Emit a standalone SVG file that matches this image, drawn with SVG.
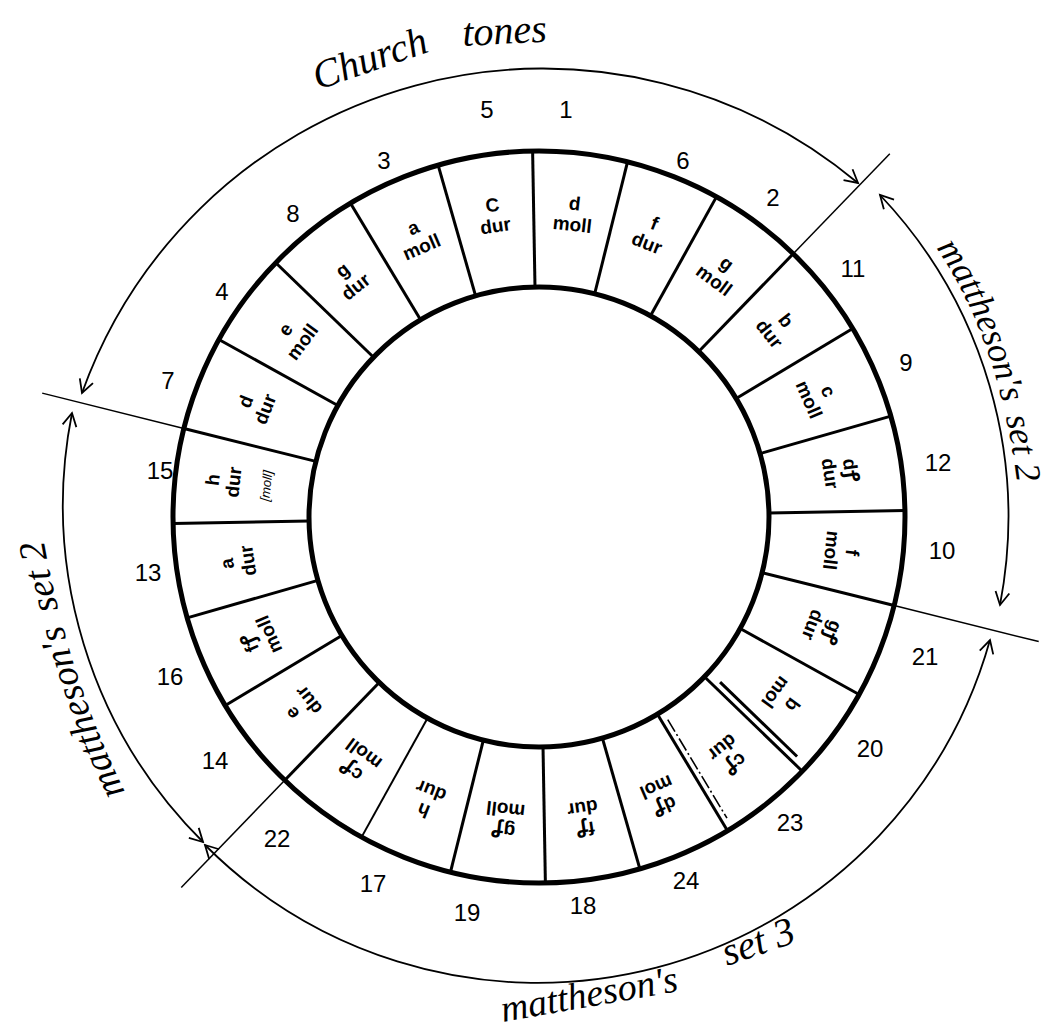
<svg xmlns="http://www.w3.org/2000/svg" width="1050" height="1028" viewBox="0 0 1050 1028">
<defs>
<style>
.ring{fill:none;stroke:#000;stroke-width:5}
.dv{stroke:#000;stroke-width:3;fill:none}
.thin{stroke:#000;stroke-width:1.5;fill:none}
.arc{fill:none;stroke:#000;stroke-width:1.8;marker-start:url(#ah);marker-end:url(#ah)}
.lab{font-family:"Liberation Sans","Noto Sans","DejaVu Sans",sans-serif;font-weight:bold;font-size:19px;text-anchor:middle;fill:#000}
.sm{font-size:13px;font-weight:normal;font-style:italic}
.num{font-family:"Liberation Sans","DejaVu Sans",sans-serif;font-size:24px;text-anchor:middle;fill:#000}
.hand{font-family:"Liberation Serif","DejaVu Serif",serif;font-style:italic;fill:#000}
</style>
<marker id="ah" markerWidth="20" markerHeight="18" refX="15" refY="9" orient="auto-start-reverse" markerUnits="userSpaceOnUse">
<path d="M2,2 L15,9 L2,16" fill="none" stroke="#000" stroke-width="1.8"/>
</marker>
</defs>
<rect width="1050" height="1028" fill="#fff"/>

<g id="ring">
<circle class="ring" cx="539" cy="517" r="366"/>
<circle class="ring" cx="539" cy="517" r="230" stroke-width="6"/>
</g>

<g id="connectors">
<g transform="translate(539,517)">
<g class="dv">
<line x1="0" y1="-230" x2="0" y2="-366" transform="rotate(-1)"/>
<line x1="0" y1="-230" x2="0" y2="-366" transform="rotate(14)"/>
<line x1="0" y1="-230" x2="0" y2="-366" transform="rotate(29)"/>
<line x1="0" y1="-230" x2="0" y2="-366" transform="rotate(44)"/>
<line x1="0" y1="-230" x2="0" y2="-366" transform="rotate(59)"/>
<line x1="0" y1="-230" x2="0" y2="-366" transform="rotate(74)"/>
<line x1="0" y1="-230" x2="0" y2="-366" transform="rotate(89)"/>
<line x1="0" y1="-230" x2="0" y2="-366" transform="rotate(104)"/>
<line x1="0" y1="-230" x2="0" y2="-366" transform="rotate(119)"/>
<line x1="0" y1="-230" x2="0" y2="-366" transform="rotate(134)"/>
<line x1="-7" y1="-245" x2="-7" y2="-352" transform="rotate(134)"/>
<line x1="0" y1="-230" x2="0" y2="-366" transform="rotate(149)"/>
<line x1="-6" y1="-240" x2="-6" y2="-355" transform="rotate(149)" stroke-width="1.6" stroke-dasharray="14 3 2 3"/>
<line x1="0" y1="-230" x2="0" y2="-366" transform="rotate(164)"/>
<line x1="0" y1="-230" x2="0" y2="-366" transform="rotate(179)"/>
<line x1="0" y1="-230" x2="0" y2="-366" transform="rotate(194)"/>
<line x1="0" y1="-230" x2="0" y2="-366" transform="rotate(209)" stroke-width="2"/>
<line x1="0" y1="-230" x2="0" y2="-366" transform="rotate(224)"/>
<line x1="0" y1="-230" x2="0" y2="-366" transform="rotate(239)"/>
<line x1="0" y1="-230" x2="0" y2="-366" transform="rotate(254)"/>
<line x1="0" y1="-230" x2="0" y2="-366" transform="rotate(269)"/>
<line x1="0" y1="-230" x2="0" y2="-366" transform="rotate(284)"/>
<line x1="0" y1="-230" x2="0" y2="-366" transform="rotate(299)"/>
<line x1="0" y1="-230" x2="0" y2="-366" transform="rotate(314)"/>
<line x1="0" y1="-230" x2="0" y2="-366" transform="rotate(329)"/>
<line x1="0" y1="-230" x2="0" y2="-366" transform="rotate(344)"/>
</g>
<g class="thin">
<line x1="0" y1="-366" x2="0" y2="-505" transform="rotate(44)"/>
<line x1="0" y1="-366" x2="0" y2="-515" transform="rotate(104)"/>
<line x1="0" y1="-366" x2="0" y2="-515" transform="rotate(224)"/>
<line x1="0" y1="-366" x2="0" y2="-512" transform="rotate(284)"/>
</g>
</g>
<path class="arc" d="M 82 393 A 490 490 0 0 1 858 183"/>
<path class="arc" d="M 880 195 A 468 468 0 0 1 1000 605"/>
<path class="arc" d="M 990 640 A 470 470 0 0 1 205 845"/>
<path class="arc" d="M 203 842 A 475 475 0 0 1 72 413"/>
</g>

<g id="n1"><text class="num" x="566" y="118">1</text><text class="lab" transform="translate(539,517) rotate(6.5)"><tspan x="0" y="-309">d</tspan><tspan x="0" y="-288">moll</tspan></text></g>
<g id="n6"><text class="num" x="683" y="169">6</text><text class="lab" transform="translate(539,517) rotate(21.5)"><tspan x="0" y="-309">f</tspan><tspan x="0" y="-288">dur</tspan></text></g>
<g id="n2"><text class="num" x="773" y="206">2</text><text class="lab" transform="translate(539,517) rotate(36.5)"><tspan x="0" y="-309">g</tspan><tspan x="0" y="-288">moll</tspan></text></g>
<g id="n11"><text class="num" x="853" y="277">11</text><text class="lab" transform="translate(539,517) rotate(51.5)"><tspan x="0" y="-309">b</tspan><tspan x="0" y="-288">dur</tspan></text></g>
<g id="n9"><text class="num" x="906" y="371">9</text><text class="lab" transform="translate(539,517) rotate(66.5)"><tspan x="0" y="-309">c</tspan><tspan x="0" y="-288">moll</tspan></text></g>
<g id="n12"><text class="num" x="938" y="471">12</text><text class="lab" transform="translate(539,517) rotate(81.5)"><tspan x="0" y="-309">dꝭ</tspan><tspan x="0" y="-288">dur</tspan></text></g>
<g id="n10"><text class="num" x="942" y="559">10</text><text class="lab" transform="translate(539,517) rotate(96.5)"><tspan x="0" y="-309">f</tspan><tspan x="0" y="-288">moll</tspan></text></g>
<g id="n21"><text class="num" x="925" y="665">21</text><text class="lab" transform="translate(539,517) rotate(111.5)"><tspan x="0" y="-309">gꝭ</tspan><tspan x="0" y="-288">dur</tspan></text></g>
<g id="n20"><text class="num" x="870" y="757">20</text><text class="lab" transform="translate(539,517) rotate(126.5)"><tspan x="0" y="-309">b</tspan><tspan x="0" y="-288">mol</tspan></text></g>
<g id="n23"><text class="num" x="790" y="831">23</text><text class="lab" transform="translate(539,517) rotate(141.5)"><tspan x="0" y="-309">cꝭ</tspan><tspan x="0" y="-288">dur</tspan></text></g>
<g id="n24"><text class="num" x="686" y="889">24</text><text class="lab" transform="translate(539,517) rotate(156.5)"><tspan x="0" y="-309">dꝭ</tspan><tspan x="0" y="-288">mol</tspan></text></g>
<g id="n18"><text class="num" x="583" y="914">18</text><text class="lab" transform="translate(539,517) rotate(171.5)"><tspan x="0" y="-309">fꝭ</tspan><tspan x="0" y="-288">dur</tspan></text></g>
<g id="n19"><text class="num" x="467" y="921">19</text><text class="lab" transform="translate(539,517) rotate(186.5)"><tspan x="0" y="-309">gꝭ</tspan><tspan x="0" y="-288">moll</tspan></text></g>
<g id="n17"><text class="num" x="373" y="892">17</text><text class="lab" transform="translate(539,517) rotate(201.5)"><tspan x="0" y="-309">h</tspan><tspan x="0" y="-288">dur</tspan></text></g>
<g id="n22"><text class="num" x="277" y="847">22</text><text class="lab" transform="translate(539,517) rotate(216.5)"><tspan x="0" y="-309">cꝭ</tspan><tspan x="0" y="-288">moll</tspan></text></g>
<g id="n14"><text class="num" x="215" y="769">14</text><text class="lab" transform="translate(539,517) rotate(231.5)"><tspan x="0" y="-309">e</tspan><tspan x="0" y="-288">dur</tspan></text></g>
<g id="n16"><text class="num" x="170" y="685">16</text><text class="lab" transform="translate(539,517) rotate(246.5)"><tspan x="0" y="-309">fꝭ</tspan><tspan x="0" y="-288">moll</tspan></text></g>
<g id="n13"><text class="num" x="148" y="581">13</text><text class="lab" transform="translate(539,517) rotate(261.5)"><tspan x="0" y="-309">a</tspan><tspan x="0" y="-288">dur</tspan></text></g>
<g id="n15"><text class="num" x="160" y="479">15</text><text class="lab" transform="translate(539,517) rotate(276.5)"><tspan x="0" y="-322">h</tspan><tspan x="0" y="-301">dur</tspan><tspan class="sm" x="0" y="-270">[moll]</tspan></text></g>
<g id="n7"><text class="num" x="168" y="389">7</text><text class="lab" transform="translate(539,517) rotate(291.5)"><tspan x="0" y="-309">d</tspan><tspan x="0" y="-288">dur</tspan></text></g>
<g id="n4"><text class="num" x="222" y="300">4</text><text class="lab" transform="translate(539,517) rotate(306.5)"><tspan x="0" y="-309">e</tspan><tspan x="0" y="-288">moll</tspan></text></g>
<g id="n8"><text class="num" x="293" y="222">8</text><text class="lab" transform="translate(539,517) rotate(321.5)"><tspan x="0" y="-309">g</tspan><tspan x="0" y="-288">dur</tspan></text></g>
<g id="n3"><text class="num" x="384" y="169">3</text><text class="lab" transform="translate(539,517) rotate(336.5)"><tspan x="0" y="-309">a</tspan><tspan x="0" y="-288">moll</tspan></text></g>
<g id="n5"><text class="num" x="487" y="118">5</text><text class="lab" transform="translate(539,517) rotate(351.5)"><tspan x="0" y="-309">C</tspan><tspan x="0" y="-288">dur</tspan></text></g>

<g id="labels">
<text class="hand" font-size="40" transform="translate(318,90) rotate(-19)">Church</text>
<text class="hand" font-size="40" transform="translate(463,46) rotate(-3)">tones</text>
<path id="pr" d="M 936 248 Q 1000 340 1018 490" fill="none"/>
<text class="hand" font-size="36"><textPath href="#pr">mattheson's</textPath></text>
<text class="hand" font-size="36"><textPath href="#pr" startOffset="184">set 2</textPath></text>
<path id="pl" d="M 125 792 Q 60 660 38 505" fill="none"/>
<text class="hand" font-size="38"><textPath href="#pl">mattheson's</textPath></text>
<text class="hand" font-size="38"><textPath href="#pl" startOffset="195">set 2</textPath></text>
<text class="hand" font-size="38" transform="translate(503,1022) rotate(-10)">mattheson's</text>
<text class="hand" font-size="40" transform="translate(727,966) rotate(-19)">set 3</text>
</g>
</svg>
